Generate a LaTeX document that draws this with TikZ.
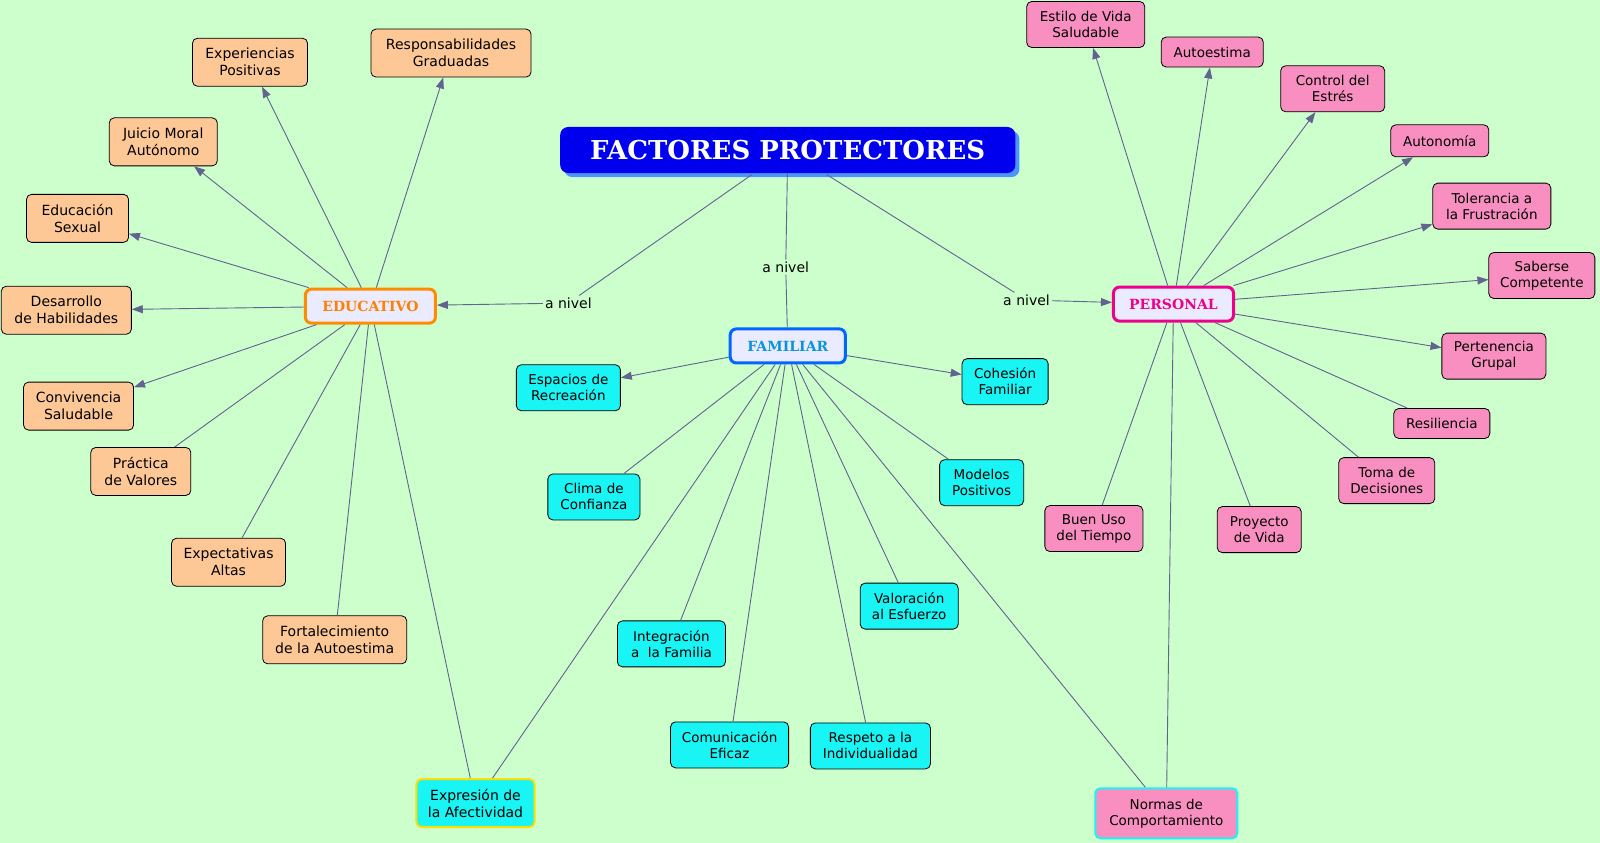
\documentclass[tikz,border=0pt]{standalone}
\usepackage{fontspec}
\setmainfont{DejaVu Sans}
\newfontfamily\titlefont{DejaVu Serif}
\usetikzlibrary{arrows.meta}
\definecolor{bg}{HTML}{CCFFCC}
\definecolor{lnc}{HTML}{61648F}
\definecolor{org}{HTML}{FDC896}
\definecolor{cy}{HTML}{19F5F5}
\definecolor{pk}{HTML}{F98FC0}
\definecolor{tb}{HTML}{0000EE}
\begin{document}
\begin{tikzpicture}[x=1.02pt,y=-1.02pt,
  box/.style={draw=black,rounded corners=5pt,align=center,font=\fontsize{14}{17}\selectfont,inner sep=3pt,minimum height=48pt,line width=0.8pt},
  ob/.style={box,fill=org},
  cb/.style={box,fill=cy,font=\fontsize{13.5}{16}\selectfont,minimum height=46pt},
  pb/.style={box,fill=pk,font=\fontsize{13.5}{16}\selectfont,minimum height=46pt},
  cat/.style={rounded corners=6pt,fill=white!92!blue,line width=3pt,minimum height=34pt,font=\titlefont\bfseries\fontsize{14}{16}\selectfont,inner xsep=10pt},
  ar/.style={lnc,line width=0.9pt,-{Triangle[length=11pt,width=8pt]}},
  ln/.style={lnc,line width=0.9pt},
  lbl/.style={fill=bg,inner sep=2pt,font=\fontsize{14}{16}\selectfont}]
\fill[bg] (0,0) rectangle (1568,826);
\useasboundingbox (0,0) rectangle (1568,826);
% title
\node[fill=blue!60!cyan!70,rounded corners=8pt,minimum width=455pt,minimum height=46pt] (Ts) at (776,151) {};
\node[fill=tb,rounded corners=8pt,minimum width=455pt,minimum height=46pt,text=white,font=\titlefont\bfseries\fontsize{26}{28}\selectfont] (T) at (772,147) {FACTORES PROTECTORES};
% categories
\node[cat,draw=orange!90!yellow,text=orange,minimum width=130pt] (E) at (363,300) {EDUCATIVO};
\node[cat,draw=blue!60!cyan,text=cyan!80!blue,minimum width=115pt] (F) at (772,339) {FAMILIAR};
\node[cat,draw=magenta,text=magenta,minimum width=120pt] (P) at (1150,298) {PERSONAL};
\node[lbl] (l1) at (557,297) {a nivel};
\node[lbl] (l2) at (770,262) {a nivel};
\node[lbl] (l3) at (1006,294) {a nivel};
\coordinate (t1) at (737,171);
\coordinate (t3) at (810,171);
\draw[ln] (t1) -- (l1);
\draw[ar] (l1) -- (E);
\draw[ln] (T) -- (l2); \draw[ln] (l2) -- (F);
\draw[ln] (t3) -- (l3);
\draw[ar] (l3) -- (P);
% educativo
\node[ob,minimum width=115pt] (e1) at (245,61) {Experiencias\\Positivas};
\node[ob,minimum width=160pt] (e2) at (442,52) {Responsabilidades\\Graduadas};
\node[ob,minimum width=108pt] (e3) at (160,139) {Juicio Moral\\Autónomo};
\node[ob,minimum width=102pt] (e4) at (76,214) {Educación\\Sexual};
\node[ob,minimum width=130pt] (e5) at (65,304) {Desarrollo\\de Habilidades};
\node[ob,minimum width=110pt] (e6) at (77,398) {Convivencia\\Saludable};
\node[ob,minimum width=100pt] (e7) at (138,462) {Práctica\\de Valores};
\node[ob,minimum width=114pt] (e8) at (224,551) {Expectativas\\Altas};
\node[ob,minimum width=144pt] (e9) at (328,627) {Fortalecimiento\\de la Autoestima};
\node[box,fill=cy,draw=yellow!80!orange,line width=2pt,minimum width=118pt,minimum height=48pt] (x) at (466,787) {Expresión de\\la Afectividad};
\foreach \n in {e1,e2,e3,e4,e5,e6} \draw[ar] (E) -- (\n);
\foreach \n in {e7,e8,e9,x} \draw[ln] (E) -- (\n);
% familiar
\node[cb,minimum width=104pt] (f1) at (557,380) {Espacios de\\Recreación};
\node[cb,minimum width=86pt] (f2) at (985,374) {Cohesión\\Familiar};
\node[cb,minimum width=92pt] (f3) at (582,487) {Clima de\\Confianza};
\node[cb,minimum width=84pt] (f4) at (962,473) {Modelos\\Positivos};
\node[cb,minimum width=98pt] (f5) at (891,594) {Valoración\\al Esfuerzo};
\node[cb,minimum width=108pt] (f6) at (658,631) {Integración\\a\ \ la Familia};
\node[cb,minimum width=118pt] (f7) at (715,730) {Comunicación\\Eficaz};
\node[cb,minimum width=120pt] (f8) at (853,731) {Respeto a la\\Individualidad};
\node[box,fill=pk,draw=cy,line width=2pt,minimum width=142pt,minimum height=50pt,font=\fontsize{13.5}{16}\selectfont] (nc) at (1143,797) {Normas de\\Comportamiento};
\draw[ar] (F) -- (f1); \draw[ar] (F) -- (f2);
\foreach \n in {f3,f4,f5,f6,f7,f8,x,nc} \draw[ln] (F) -- (\n);
% personal
\node[pb,minimum width=118pt] (p1) at (1064,24) {Estilo de Vida\\Saludable};
\node[pb,minimum width=102pt,minimum height=30pt] (p2) at (1188,51) {Autoestima};
\node[pb,minimum width=104pt] (p3) at (1306,87) {Control del\\Estrés};
\node[pb,minimum width=98pt,minimum height=32pt] (p4) at (1411,138) {Autonomía};
\node[pb,minimum width=118pt] (p5) at (1462,202) {Tolerancia a\\la Frustración};
\node[pb,minimum width=106pt] (p6) at (1511,270) {Saberse\\Competente};
\node[pb,minimum width=104pt] (p7) at (1464,349) {Pertenencia\\Grupal};
\node[pb,minimum width=96pt,minimum height=30pt] (p8) at (1413,415) {Resiliencia};
\node[pb,minimum width=96pt] (p9) at (1359,471) {Toma de\\Decisiones};
\node[pb,minimum width=84pt] (p10) at (1234,519) {Proyecto\\de Vida};
\node[pb,minimum width=98pt] (p11) at (1072,518) {Buen Uso\\del Tiempo};
\foreach \n in {p1,p2,p3,p4,p5,p6,p7} \draw[ar] (P) -- (\n);
\foreach \n in {p8,p9,p10,p11,nc} \draw[ln] (P) -- (\n);
\end{tikzpicture}
\end{document}
